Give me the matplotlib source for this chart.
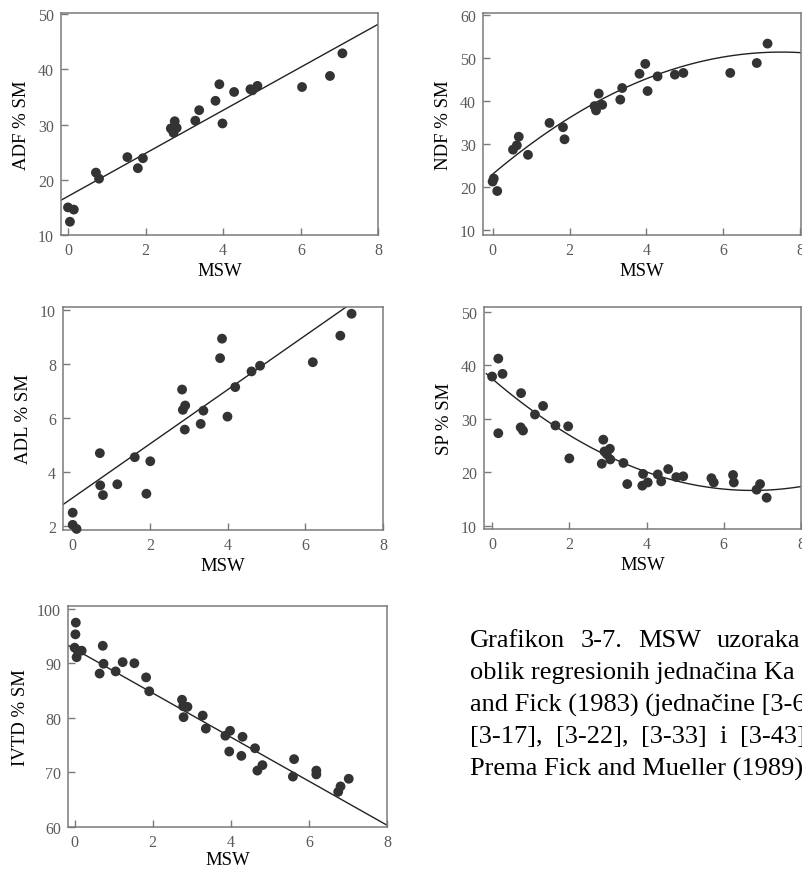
import matplotlib
matplotlib.use("Agg")
import matplotlib.pyplot as plt
import numpy as np

plt.rcParams['font.family'] = ['Liberation Serif', 'DejaVu Serif']

# ---------------- data ----------------
adf_x = [0.0, 0.15, 0.05, 0.72, 0.8, 1.53, 1.8, 1.93, 2.65, 2.72, 2.75, 2.8, 2.7, 3.28, 3.38, 3.8, 3.9, 3.98, 4.28, 4.7, 4.75, 4.88, 6.03, 6.75, 7.07]
adf_y = [15.0, 14.6, 12.4, 21.3, 20.2, 24.1, 22.1, 23.9, 29.3, 28.5, 30.6, 29.4, 29.0, 30.7, 32.6, 34.3, 37.3, 30.2, 35.9, 36.4, 36.2, 37.0, 36.8, 38.8, 42.9]
adf_fit = [17.0, 3.9]            # intercept, slope

ndf_x = [0.0, 0.03, 0.12, 0.53, 0.63, 0.68, 0.92, 1.48, 1.83, 1.87, 2.65, 2.69, 2.76, 2.85, 3.32, 3.37, 3.82, 3.97, 4.03, 4.29, 4.74, 4.96, 6.18, 6.87, 7.15]
ndf_y = [21.3, 22.0, 19.1, 28.7, 29.7, 31.7, 27.5, 34.9, 33.9, 31.1, 38.8, 37.8, 41.7, 39.1, 40.3, 43.0, 46.3, 48.6, 42.3, 45.7, 46.1, 46.5, 46.5, 48.8, 53.3]
ndf_fit = [23.0, 7.55, -0.503]   # a + b x + c x^2

adl_x = [0.0, 0.0, 0.1, 0.7, 0.71, 0.78, 1.15, 1.6, 1.9, 2.0, 2.82, 2.84, 2.9, 2.89, 3.3, 3.37, 3.8, 3.85, 3.99, 4.19, 4.61, 4.83, 6.19, 6.9, 7.19]
adl_y = [2.5, 2.05, 1.9, 4.7, 3.51, 3.15, 3.55, 4.55, 3.2, 4.4, 7.05, 6.3, 6.46, 5.57, 5.78, 6.27, 8.21, 8.93, 6.05, 7.14, 7.72, 7.93, 8.06, 9.04, 9.85]
adl_fit = [3.05, 1.0]

sp_x = [0.0, 0.16, 0.27, 0.16, 0.75, 0.74, 0.8, 1.11, 1.32, 1.64, 1.97, 2.0, 2.84, 2.88, 2.91, 2.97, 3.05, 3.06, 3.4, 3.5, 3.91, 3.89, 4.03, 4.29, 4.38, 4.56, 4.77, 4.95, 5.68, 5.74, 6.24, 6.26, 6.85, 6.94, 7.11]
sp_y = [37.9, 41.25, 38.4, 27.3, 34.8, 28.4, 27.8, 30.8, 32.4, 28.75, 28.6, 22.6, 21.6, 26.1, 23.9, 23.4, 24.4, 22.4, 21.75, 17.8, 19.7, 17.5, 18.1, 19.6, 18.3, 20.6, 19.1, 19.25, 18.9, 18.1, 19.5, 18.1, 16.75, 17.8, 15.25]
sp_fit = [37.5, -6.2, 0.46]

ivtd_x = [0.03, 0.02, 0.0, 0.08, 0.05, 0.18, 0.72, 0.74, 0.64, 1.05, 1.23, 1.53, 1.83, 1.91, 2.75, 2.78, 2.89, 2.79, 3.28, 3.36, 3.86, 3.98, 3.96, 4.3, 4.27, 4.62, 4.68, 4.81, 5.62, 5.59, 6.19, 6.19, 6.75, 6.81, 7.02]
ivtd_y = [97.45, 95.3, 92.85, 92.3, 91.1, 92.3, 93.2, 89.9, 88.1, 88.5, 90.2, 90.0, 87.4, 84.85, 83.3, 82.1, 82.0, 80.1, 80.4, 78.0, 76.7, 77.6, 73.8, 76.5, 73.0, 74.4, 70.3, 71.3, 72.4, 69.2, 70.3, 69.6, 66.4, 67.4, 68.8]
ivtd_fit = [92.6, -4.04]

x_ticks = [0, 2, 4, 6, 8]
x_label = "MSW"

caption_lines = [
    ["Grafikon", "3-7.", "MSW", "uzoraka"],
    ["oblik regresionih jednačina Ka"],
    ["and Fick (1983) (jednačine [3-6"],
    ["[3-17],", "[3-22],", "[3-33]", "i", "[3-43]"],
    ["Prema Fick and Mueller (1989)."],
]

# ---------------- figure ----------------
W, H = 803, 870
fig = plt.figure(figsize=(W / 100, H / 100), dpi=100)

def add_axes(l, r, t, b):
    return fig.add_axes([l / W, 1 - b / H, (r - l) / W, (b - t) / H])

SPINE = '#7a7a7a'
TICKC = '#5a5a5a'
DOT = '#333333'

def style(ax, xlim, ylim, yticks, ylabel, xpad=3):
    ax.set_xlim(*xlim)
    ax.set_ylim(*ylim)
    ax.set_xticks(x_ticks)
    ax.set_yticks(yticks)
    for s in ax.spines.values():
        s.set_color(SPINE)
        s.set_linewidth(1.1)
    ax.tick_params(direction='in', length=5, width=1.0, color=SPINE,
                   labelcolor=TICKC, labelsize=11.5, pad=5)
    ax.set_xlabel(x_label, fontsize=13.5, color='black', labelpad=xpad)
    ax.set_ylabel(ylabel, fontsize=13.5, color='black', labelpad=6)

def scatter(ax, x, y):
    ax.scatter(x, y, s=50, color=DOT, edgecolors='none', zorder=3, clip_on=False)

# Panel 1: ADF
ax1 = add_axes(61, 378.5, 14, 236)
style(ax1, (-0.18, 8.0), (10, 50.2), [10, 20, 30, 40, 50], "ADF % SM")
xx = np.linspace(-0.18, 8.0, 50)
ax1.plot(xx, adf_fit[0] + adf_fit[1] * xx, color='#222222', lw=1.0)
scatter(ax1, adf_x, adf_y)

# Panel 2: NDF
ax2 = add_axes(483, 801, 14, 236)
style(ax2, (-0.25, 8.02), (8.9, 60.4), [10, 20, 30, 40, 50, 60], "NDF % SM")
xx = np.linspace(-0.05, 8.02, 100)
ax2.plot(xx, ndf_fit[0] + ndf_fit[1] * xx + ndf_fit[2] * xx ** 2, color='#222222', lw=1.0)
scatter(ax2, ndf_x, ndf_y)

# Panel 3: ADL
ax3 = add_axes(63, 383, 308, 531)
style(ax3, (-0.25, 8.0), (1.86, 10.1), [2, 4, 6, 8, 10], "ADL % SM")
xx = np.linspace(-0.25, 8.0, 50)
ax3.plot(xx, adl_fit[0] + adl_fit[1] * xx, color='#222222', lw=1.0)
scatter(ax3, adl_x, adl_y)

# Panel 4: SP
ax4 = add_axes(484, 801, 308, 530)
style(ax4, (-0.21, 8.0), (9.4, 50.9), [10, 20, 30, 40, 50], "SP % SM")
xx = np.linspace(-0.15, 8.0, 100)
ax4.plot(xx, sp_fit[0] + sp_fit[1] * xx + sp_fit[2] * xx ** 2, color='#222222', lw=1.0)
scatter(ax4, sp_x, sp_y)

# Panel 5: IVTD
ax5 = add_axes(68, 387, 607, 828)
style(ax5, (-0.17, 8.0), (59.95, 100.5), [60, 70, 80, 90, 100], "IVTD % SM", xpad=1)
xx = np.linspace(-0.17, 8.0, 50)
ax5.plot(xx, ivtd_fit[0] + ivtd_fit[1] * xx, color='#222222', lw=1.0)
scatter(ax5, ivtd_x, ivtd_y)

# ---------------- caption (justified lines) ----------------
cap_fs = 19.0
x0 = 470
line_y = [641, 673, 705, 737, 769]
right_targets = [800, None, None, 806, None]

renderer = fig.canvas.get_renderer()
for words, yy, rt in zip(caption_lines, line_y, right_targets):
    texts = [fig.text(0, 1 - yy / H, w, fontsize=cap_fs, color='black',
                      va='center', ha='left') for w in words]
    widths = [t.get_window_extent(renderer).width for t in texts]
    if rt is not None and len(words) > 1:
        gap = (rt - x0 - sum(widths)) / (len(words) - 1)
    else:
        gap = 0
    xpos = x0
    for t, wdt in zip(texts, widths):
        t.set_x(xpos / W)
        xpos += wdt + gap

fig.savefig("out.png", dpi=100)
